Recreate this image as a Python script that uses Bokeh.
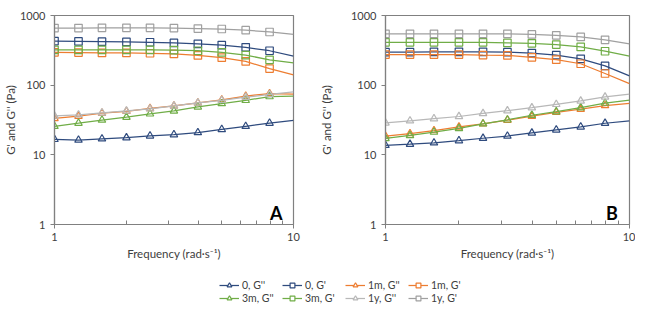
from bokeh.plotting import figure
from bokeh.models import FixedTicker, Label, Legend, LegendItem, PrintfTickFormatter
from bokeh.layouts import column, row
from bokeh.embed import file_html
from bokeh.resources import INLINE

freq = [1.0, 1.26, 1.58, 2.0, 2.51, 3.16, 3.98, 5.01, 6.31, 7.94, 10.0]

# Panel A
a_0_g2 = [16.7, 16.3, 17.0, 17.6, 18.7, 19.5, 20.9, 23.2, 25.7, 28.5, 31.3]
a_0_g1 = [430, 425, 421, 417, 413, 404, 392, 376, 349, 312, 262]
a_1m_g2 = [33.3, 35.8, 39.6, 42.2, 46.3, 50.3, 55.7, 61.7, 69.8, 75.9, 74.5]
a_1m_g1 = [296, 294, 290, 290, 287, 281, 267, 248, 219, 173, 141]
a_3m_g2 = [25.7, 28.5, 31.6, 34.7, 38.8, 42.6, 48.8, 54.5, 60.6, 68.6, 69.8]
a_3m_g1 = [322, 322, 322, 322, 322, 318, 312, 296, 270, 231, 209]
a_1y_g2 = [36.1, 37.6, 40.0, 42.6, 45.8, 50.3, 55.7, 60.6, 67.1, 73.6, 80.0]
a_1y_g1 = [660, 660, 665, 665, 665, 660, 650, 640, 615, 580, 535]

# Panel B
b_0_g2 = [13.7, 14.2, 14.9, 16.0, 17.3, 18.6, 20.6, 22.8, 25.2, 28.4, 30.8]
b_0_g1 = [298, 298, 301, 301, 301, 298, 289, 270, 239, 189, 136]
b_1m_g2 = [18.6, 20.2, 22.3, 25.2, 27.9, 31.5, 35.9, 40.8, 45.2, 51.0, 54.8]
b_1m_g1 = [275, 275, 275, 275, 270, 267, 251, 232, 203, 147, 105]
b_3m_g2 = [17.2, 19.0, 21.2, 23.9, 27.9, 31.8, 37.0, 41.7, 47.5, 55.3, 61.2]
b_3m_g1 = [412, 412, 412, 412, 412, 404, 399, 383, 354, 307, 261]
b_1y_g2 = [28.7, 30.8, 33.1, 35.5, 39.3, 43.0, 47.5, 53.1, 59.4, 67.7, 74.1]
b_1y_g1 = [546, 546, 546, 546, 546, 546, 535, 519, 493, 447, 392]

labels = ["0, G''", "0, G'", "1m, G''", "1m, G'", "3m, G''", "3m, G'", "1y, G''", "1y, G'"]
colors = ["#2F4B7E", "#2F4B7E", "#ED7D31", "#ED7D31", "#70AD47", "#70AD47", "#B8B8B8", "#A0A0A0"]
markers = ["triangle", "square"] * 4

series_a = [a_0_g2, a_0_g1, a_1m_g2, a_1m_g1, a_3m_g2, a_3m_g1, a_1y_g2, a_1y_g1]
series_b = [b_0_g2, b_0_g1, b_1m_g2, b_1m_g1, b_3m_g2, b_3m_g1, b_1y_g2, b_1y_g1]

y_ticks = [1, 10, 100, 1000]
x_ticks = [1, 10]
x_minor = [2, 3, 4, 5, 6, 7, 8, 9]

FONT = "Lato"
TXT = "#404040"
AX = "#808080"


def make_panel(series, letter, w, lb, rb, ystand):
    p = figure(width=w, height=262, x_axis_type="log", y_axis_type="log",
               x_range=(1, 10), y_range=(1, 1000), output_backend="svg",
               toolbar_location=None, min_border_left=lb, min_border_right=rb,
               min_border_top=15, min_border_bottom=36)
    p.grid.visible = False
    p.outline_line_color = AX
    p.outline_line_width = 1.2
    p.background_fill_color = None
    p.border_fill_color = None
    p.xaxis.ticker = FixedTicker(ticks=x_ticks, minor_ticks=x_minor)
    p.yaxis.ticker = FixedTicker(ticks=y_ticks)
    p.xaxis.formatter = PrintfTickFormatter(format="%d")
    p.yaxis.formatter = PrintfTickFormatter(format="%d")
    for ax in (p.xaxis[0], p.yaxis[0]):
        ax.axis_line_color = AX
        ax.axis_line_width = 1.2
        ax.major_tick_line_color = AX
        ax.minor_tick_line_color = AX
        ax.major_label_text_font = FONT
        ax.major_label_text_font_size = "11px"
        ax.major_label_text_color = TXT
        ax.axis_label_text_font = FONT
        ax.axis_label_text_font_size = "11.5px"
        ax.axis_label_text_color = TXT
        ax.axis_label_text_font_style = "normal"
    p.xaxis.major_tick_out = 4
    p.xaxis.major_tick_in = 0
    p.xaxis.minor_tick_in = 4
    p.xaxis.minor_tick_out = 0
    p.yaxis.major_tick_out = 4
    p.yaxis.major_tick_in = 0
    p.yaxis.minor_tick_line_color = None
    p.xaxis.major_label_standoff = 4
    p.yaxis.major_label_standoff = 5
    p.xaxis.axis_label = "Frequency (rad·s⁻¹)"
    p.yaxis.axis_label = "G' and G'' (Pa)"
    p.xaxis.axis_label_standoff = 3
    p.yaxis.axis_label_standoff = ystand
    for vals, c, m in zip(series, colors, markers):
        p.line(freq, vals, line_color=c, line_width=1.25)
        p.scatter(freq[:10], vals[:10], marker=m, size=7.5, line_color=c,
                  line_width=1.2, fill_color=None)
    p.add_layout(Label(x=8.47, y=1.47, text=letter, text_font=FONT,
                       text_font_style="bold", text_font_size="18px",
                       text_align="center", text_baseline="middle",
                       text_color="#000000"))
    return p


pa = make_panel(series_a, "A", 316, 47, 23, 0)
pb = make_panel(series_b, "B", 319, 61, 6, 15)

# legend-only figure: the series are drawn outside its visible range,
# only their legend glyphs show
leg = figure(width=635, height=42, toolbar_location=None, output_backend="svg",
             min_border=0, x_range=(100, 200), y_range=(100000, 200000),
             x_axis_location=None, y_axis_location=None)
leg.grid.visible = False
leg.outline_line_color = None
leg.background_fill_color = None
leg.border_fill_color = None
items = []
for vals, lab, c, m in zip(series_a, labels, colors, markers):
    r1 = leg.line(freq, vals, line_color=c, line_width=1.25)
    r2 = leg.scatter(freq[:10], vals[:10], marker=m, size=7, line_color=c,
                     line_width=1.2, fill_color="white")
    items.append(LegendItem(label=lab, renderers=[r1, r2]))
legend = Legend(items=items, location=(219, 0), orientation="horizontal",
                ncols=4, glyph_width=20, glyph_height=12, label_height=12,
                label_width=39, label_standoff=3, spacing=1, padding=0,
                margin=0, border_line_color=None, background_fill_color=None,
                label_text_font=FONT, label_text_font_size="10.5px",
                label_text_color=TXT)
leg.add_layout(legend)

layout = column(row(pa, pb), leg)
open("out.html", "w").write(file_html(layout, INLINE))
